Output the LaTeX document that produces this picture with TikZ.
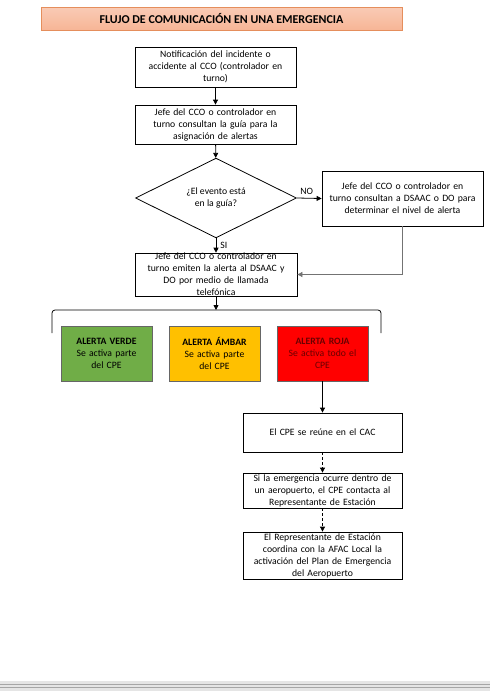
\documentclass[tikz,border=0pt]{standalone}
\usepackage{fontspec}
\setmainfont{Carlito}
\usepackage{xcolor}
\usepackage{tikz}
\usetikzlibrary{shapes.geometric}
\usetikzlibrary{positioning, arrows.meta}

\definecolor{titlefill}{HTML}{F7B596}
\definecolor{titleline}{HTML}{E58E5C}
\definecolor{verde}{HTML}{70AD47}
\definecolor{ambar}{HTML}{FFC000}
\definecolor{roja}{HTML}{FF0000}
\definecolor{rojatexto}{HTML}{6A0000}

\begin{document}
\begin{tikzpicture}[x=1pt, y=-1pt,
  every node/.style={font=\fontsize{9.7}{12}\selectfont, align=center, inner sep=0pt},
  caja/.style={draw=black, line width=0.8pt, fill=white, minimum width=161pt, text width=158pt},
  alerta/.style={draw=black!60, line width=0.5pt, minimum width=91pt, minimum height=55pt, text width=89pt},
  flecha/.style={-{Triangle[length=5pt,width=5pt]}, line width=0.8pt},
  guion/.style={flecha, dash pattern=on 3pt off 2pt}]
\useasboundingbox (0,0) rectangle (490,691);
\fill[white] (0,0) rectangle (490,691);
% titulo
\node[draw=titleline, top color=titlefill!70, bottom color=titlefill, minimum width=361pt, minimum height=23pt, font=\fontsize{12}{14}\selectfont\bfseries] (titulo) at (221.5,18.5) {FLUJO DE COMUNICACIÓN EN UNA EMERGENCIA};
% cajas principales
\node[caja, minimum height=40pt] (notif) at (215.5,67) {Notificación del incidente o\\accidente al CCO (controlador en\\turno)};
\node[caja, minimum height=39pt] (consulta) at (215.5,124.5) {Jefe del CCO o controlador en\\turno consultan la guía para la\\asignación de alertas};
\node[draw=black, line width=0.8pt, fill=white, diamond, minimum width=161pt, minimum height=70pt] (evento) at (216,198) {¿El evento está\\en la guía?};
\node[caja, minimum height=55pt] (dsaac) at (402.5,198.5) {Jefe del CCO o controlador en\\turno consultan a DSAAC o DO para\\determinar el nivel de alerta};
\node[caja, minimum width=162pt, minimum height=41pt] (emiten) at (216,274.5) {Jefe del CCO o controlador en\\turno emiten la alerta al DSAAC y\\DO por medio de llamada\\telefónica};
% alertas
\node[alerta, fill=verde] (verde) at (106.5,353.5) {\textbf{ALERTA VERDE}\\Se activa parte\\del CPE};
\node[alerta, fill=ambar] (ambar) at (214.5,353.5) {\textbf{ALERTA ÁMBAR}\\Se activa parte\\del CPE};
\node[alerta, fill=roja, text=rojatexto] (roja) at (322.5,353.5) {\textbf{ALERTA ROJA}\\Se activa todo el\\CPE};
% CPE
\node[caja, minimum width=159pt, minimum height=39pt] (reune) at (322.5,432.5) {El CPE se reúne en el CAC};
\node[caja, minimum width=159pt, minimum height=35pt] (aeropuerto) at (322.5,490.5) {Si la emergencia ocurre dentro de\\un aeropuerto, el CPE contacta al\\Representante de Estación};
\node[caja, minimum width=159pt, minimum height=47pt] (plan) at (322.5,555.5) {El Representante de Estación\\coordina con la AFAC Local la\\activación del Plan de Emergencia\\del Aeropuerto};
% llave
\coordinate (llave) at (216,310);
\draw[line width=0.8pt, rounded corners=3pt] (52,333) -- (52,310) -- (381,310) -- (381,333);
% conectores
\draw[flecha] (notif) -- (consulta);
\draw[flecha] (consulta) -- (evento);
\draw[flecha] (evento.east) -- node[above=3pt, pos=0.4] {NO} (dsaac.west);
\draw[flecha] (evento.south) -- node[right=4pt, pos=0.5] {SI} (emiten.north);
\draw[flecha, draw=black!55] (dsaac.south) |- (emiten.east);
\draw[flecha] (emiten.south) -- (llave);
\draw[flecha] (roja.south) -- (reune.north);
\draw[guion] (reune) -- (aeropuerto);
\draw[guion] (aeropuerto) -- (plan);
% borde inferior
\fill[black!10] (0,681) rectangle (490,691);
\draw[black!35] (0,684) -- (490,684);
\draw[black!35] (0,687) -- (490,687);
\end{tikzpicture}
\end{document}
